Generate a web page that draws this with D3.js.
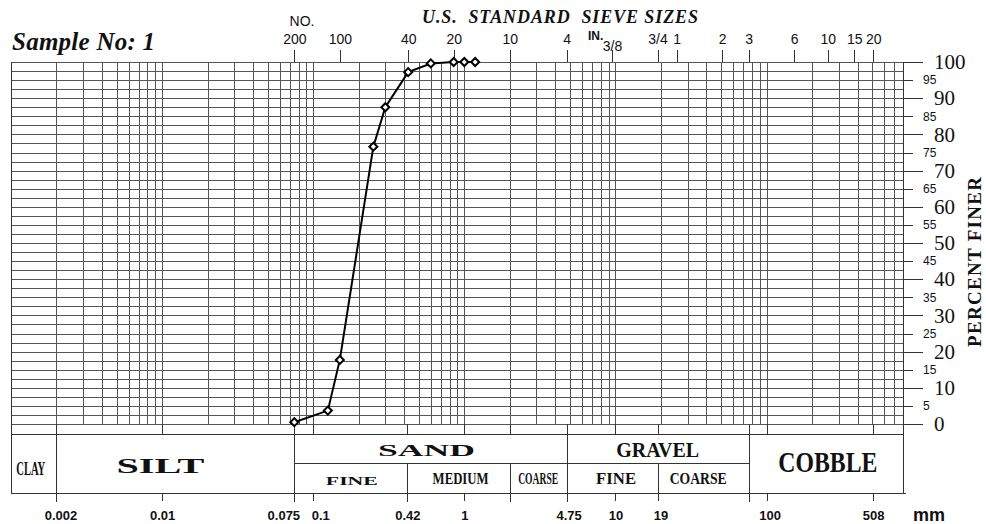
<!DOCTYPE html>
<html>
<head>
<meta charset="utf-8">
<script src="https://cdn.jsdelivr.net/npm/d3@7"></script>
<style>
  body { margin: 0; background: #fff; }
  text { fill: #111; }
  .grid line { stroke: #555; stroke-width: 1; shape-rendering: crispEdges; }
  .frame line { stroke: #333; stroke-width: 1; shape-rendering: crispEdges; }
  .axis path.domain { display: none; }
  .axis line { stroke: #333; shape-rendering: crispEdges; }
</style>
</head>
<body>
<svg id="chart" width="986" height="524"></svg>
<script>
// sieve analysis: grain size (mm) and percent finer
const grainSizeMm = [1.18, 1.0, 0.85, 0.6, 0.425, 0.3, 0.25, 0.15, 0.125, 0.075];
const percentFiner = [100, 100, 100, 99.6, 97.2, 87.5, 76.6, 17.7, 3.7, 0.5];

// U.S. standard sieve sizes along the top
const sieveLabels = ["200", "100", "40", "20", "10", "4", "3/8", "3/4", "1", "2", "3", "6", "10", "15", "20"];
const sieveMm = [0.075, 0.15, 0.425, 0.85, 2.0, 4.75, 9.5, 19.0, 25.4, 50.8, 76.2, 152.4, 254, 381, 508];

// mm labels along the bottom
const mmLabels = ["0.002", "0.01", "0.075", "0.1", "0.42", "1", "4.75", "10", "19", "100", "508"];
const mmValues = [0.002, 0.01, 0.075, 0.1, 0.42, 1, 4.75, 10, 19, 100, 508];

// soil classification bands
const mainClasses = ["CLAY", "SILT", "SAND", "GRAVEL", "COBBLE"];
const mainBounds = [0.001, 0.002, 0.075, 4.75, 76.2, 800];
const subClasses = ["FINE", "MEDIUM", "COARSE", "FINE", "COARSE"];
const subBounds = [0.075, 0.42, 2.0, 4.75, 19, 76.2];

// percent finer ticks (right side)
const majorPct = [0, 10, 20, 30, 40, 50, 60, 70, 80, 90, 100];
const minorPct = [5, 15, 25, 35, 45, 55, 65, 75, 85, 95];

const svg = d3.select('#chart');
const plotTop = 62, plotBottom = 424;
const tableTop = 434, tableMid = 463, tableBottom = 493;

const xScale = d3.scaleLog().domain([0.001, 800]).range([11, 903]);
const yScale = d3.scaleLinear().domain([0, 100]).range([plotBottom, plotTop]);

svg.append('rect').attr('width', 986).attr('height', 524).attr('fill', '#fff');

// grid
const grid = svg.append('g').attr('class', 'grid');
grid.selectAll('.vx').data(xScale.ticks())
  .enter().append('line')
    .attr('x1', d => Math.round(xScale(d)) + 0.5)
    .attr('x2', d => Math.round(xScale(d)) + 0.5)
    .attr('y1', plotTop)
    .attr('y2', plotBottom);

grid.selectAll('.hy').data(d3.range(0, 100.1, 2.5))
  .enter().append('line')
    .attr('x1', xScale(0.001))
    .attr('x2', xScale(800))
    .attr('y1', d => Math.round(yScale(d)) + 0.5)
    .attr('y2', d => Math.round(yScale(d)) + 0.5);

// right percent axis
const yAxisMajor = d3.axisRight(yScale).tickValues(majorPct).tickSize(20).tickPadding(11);
const yAxisMinor = d3.axisRight(yScale).tickValues(minorPct).tickSize(10).tickPadding(10);

svg.append('g').attr('class', 'axis')
  .attr('transform', `translate(${xScale(800)},0)`)
  .call(yAxisMajor)
  .selectAll('text')
    .attr('font-family', 'Liberation Serif, serif')
    .attr('font-size', 21)
    .attr('fill', '#111');

svg.append('g').attr('class', 'axis')
  .attr('transform', `translate(${xScale(800)},0)`)
  .call(yAxisMinor)
  .selectAll('text')
    .attr('font-family', 'Liberation Sans, Arial, sans-serif')
    .attr('font-size', 12)
    .attr('fill', '#111');

// top sieve axis
const sieveAxis = d3.axisTop(xScale)
  .tickValues(sieveMm)
  .tickFormat((d, i) => sieveLabels[i])
  .tickSize(12)
  .tickPadding(6);

const sieveG = svg.append('g').attr('class', 'axis')
  .attr('transform', `translate(0,${plotTop})`)
  .call(sieveAxis);
sieveG.selectAll('text')
  .attr('font-family', 'Liberation Sans, Arial, sans-serif')
  .attr('font-size', 14)
  .attr('fill', '#111')
  .attr('dy', (d, i) => sieveLabels[i] === '3/8' ? '0.5em' : '0em');

// ticks between grid and table
const upperTicks = d3.axisBottom(xScale)
  .tickValues(mmValues.concat([2.0, 76.2]))
  .tickSize(tableTop - plotBottom)
  .tickFormat('');
svg.append('g').attr('class', 'axis')
  .attr('transform', `translate(0,${plotBottom})`)
  .call(upperTicks);

// bottom mm axis
const mmAxis = d3.axisBottom(xScale)
  .tickValues(mmValues)
  .tickFormat((d, i) => mmLabels[i])
  .tickSize(8)
  .tickPadding(10);
const nudge = { '0.002': 4, '0.075': -11, '0.1': 7, '4.75': 2, '19': 3, '100': 3 };
svg.append('g').attr('class', 'axis')
  .attr('transform', `translate(0,${tableBottom})`)
  .call(mmAxis)
  .selectAll('text')
    .attr('font-family', 'Liberation Sans, Arial, sans-serif')
    .attr('font-weight', 'bold')
    .attr('font-size', 13)
    .attr('fill', '#111')
    .attr('dx', (d, i) => nudge[mmLabels[i]] || 0);

// classification table frame
const frame = svg.append('g').attr('class', 'frame');
const x0 = xScale(0.001), x1 = xScale(800);
const hLines = [
  [x0, x1, tableTop],
  [x0, x1 + 3, tableBottom],
  [xScale(0.075), xScale(76.2), tableMid]
];
hLines.forEach(l => {
  frame.append('line')
    .attr('x1', l[0]).attr('x2', l[1])
    .attr('y1', Math.round(l[2]) + 0.5).attr('y2', Math.round(l[2]) + 0.5);
});
// outer sides
[x0, x1].forEach(x => {
  frame.append('line')
    .attr('x1', Math.round(x) + 0.5).attr('x2', Math.round(x) + 0.5)
    .attr('y1', plotTop).attr('y2', tableBottom + 1);
});
// main class dividers (full height)
mainBounds.slice(1, -1).forEach(b => {
  frame.append('line')
    .attr('x1', Math.round(xScale(b)) + 0.5).attr('x2', Math.round(xScale(b)) + 0.5)
    .attr('y1', b === 4.75 ? tableTop : plotBottom).attr('y2', tableBottom + 9);
});
// sub class dividers
[0.42, 2.0, 19].forEach(b => {
  frame.append('line')
    .attr('x1', Math.round(xScale(b)) + 0.5).attr('x2', Math.round(xScale(b)) + 0.5)
    .attr('y1', tableMid).attr('y2', tableBottom + (b === 19 ? 0 : 9));
});

// class labels
const mainStyle = {
  CLAY:   { y: 468, size: 19, len: 29, dx: -3 },
  SILT:   { y: 465, size: 22, len: 88, dx: -15 },
  SAND:   { y: 450, size: 16, len: 97, dx: -4 },
  GRAVEL: { y: 449, size: 22, len: 83, dx: 0 },
  COBBLE: { y: 462, size: 29, len: 99, dx: 2 }
};
mainClasses.forEach((c, i) => {
  const s = mainStyle[c];
  const cx = (xScale(mainBounds[i]) + xScale(mainBounds[i + 1])) / 2 + s.dx;
  svg.append('text')
    .attr('x', cx).attr('y', s.y)
    .attr('dy', '0.35em')
    .attr('text-anchor', 'middle')
    .attr('font-family', 'Liberation Serif, serif')
    .attr('font-weight', 'bold')
    .attr('font-size', s.size)
    .attr('textLength', s.len)
    .attr('lengthAdjust', 'spacingAndGlyphs')
    .text(c);
});

const subStyle = [
  { size: 12, len: 52, dx: 1 },
  { size: 17, len: 56, dx: 2 },
  { size: 16, len: 40, dx: 0 },
  { size: 17, len: 40, dx: 4 },
  { size: 17, len: 57, dx: -5 }
];
subClasses.forEach((c, i) => {
  const s = subStyle[i];
  const cx = (xScale(subBounds[i]) + xScale(subBounds[i + 1])) / 2 + s.dx;
  svg.append('text')
    .attr('x', cx).attr('y', i === 0 ? 481 : 478)
    .attr('dy', '0.35em')
    .attr('text-anchor', 'middle')
    .attr('font-family', 'Liberation Serif, serif')
    .attr('font-weight', 'bold')
    .attr('font-size', s.size)
    .attr('textLength', s.len)
    .attr('lengthAdjust', 'spacingAndGlyphs')
    .text(c);
});

// gradation curve
const points = grainSizeMm.map((d, i) => ({ size: d, pct: percentFiner[i] }));
const line = d3.line()
  .x(d => xScale(d.size))
  .y(d => yScale(d.pct));

svg.append('path')
  .datum(points)
  .attr('fill', 'none')
  .attr('stroke', '#000')
  .attr('stroke-width', 2)
  .attr('d', line);

svg.selectAll('.marker').data(points)
  .enter().append('path')
    .attr('class', 'marker')
    .attr('transform', d => `translate(${xScale(d.size)},${yScale(d.pct)}) rotate(45)`)
    .attr('d', d3.symbol().type(d3.symbolSquare).size(32))
    .attr('fill', '#fff')
    .attr('stroke', '#000')
    .attr('stroke-width', 2);

// titles and labels
svg.append('text')
  .attr('x', 12).attr('y', 50)
  .attr('font-family', 'Liberation Serif, serif')
  .attr('font-weight', 'bold')
  .attr('font-style', 'italic')
  .attr('font-size', 25)
  .attr('textLength', 143)
  .text('Sample No: 1');

svg.append('text')
  .attr('x', 422).attr('y', 23)
  .attr('font-family', 'Liberation Serif, serif')
  .attr('font-weight', 'bold')
  .attr('font-style', 'italic')
  .attr('font-size', 18)
  .attr('textLength', 276)
  .style('white-space', 'pre')
  .text('U.S.  STANDARD  SIEVE SIZES');

svg.append('text')
  .attr('x', 302).attr('y', 26)
  .attr('text-anchor', 'middle')
  .attr('font-family', 'Liberation Sans, Arial, sans-serif')
  .attr('font-size', 14)
  .text('NO.');

svg.append('text')
  .attr('x', 588).attr('y', 40)
  .attr('font-family', 'Liberation Sans, Arial, sans-serif')
  .attr('font-weight', 'bold')
  .attr('font-size', 12)
  .text('IN.');

svg.append('text')
  .attr('x', 913).attr('y', 521)
  .attr('font-family', 'Liberation Sans, Arial, sans-serif')
  .attr('font-weight', 'bold')
  .attr('font-size', 18)
  .text('mm');

svg.append('text')
  .attr('transform', 'translate(981,262) rotate(-90)')
  .attr('text-anchor', 'middle')
  .attr('font-family', 'Liberation Serif, serif')
  .attr('font-weight', 'bold')
  .attr('font-size', 19)
  .attr('textLength', 170)
  .text('PERCENT FINER');
</script>
</body>
</html>
